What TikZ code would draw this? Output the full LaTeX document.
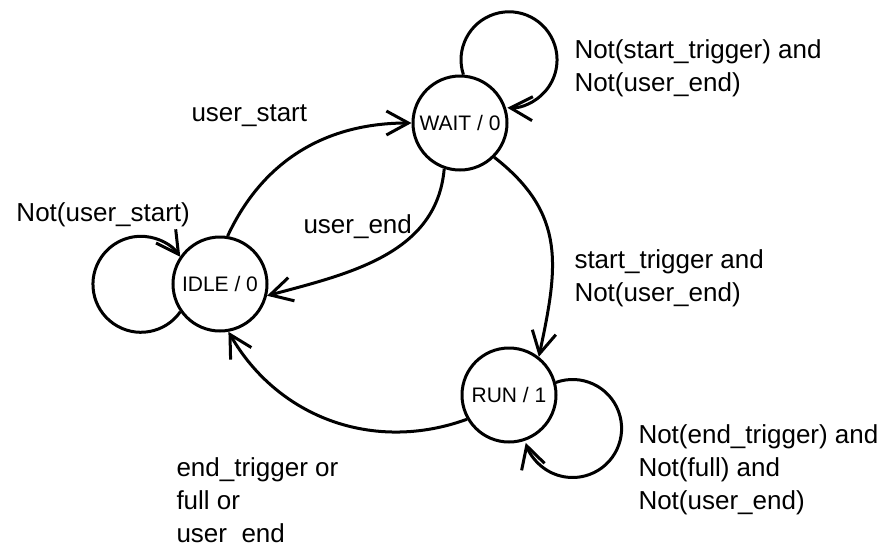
\documentclass[tikz,border=0pt]{standalone}
\usepackage{fontspec}
\setmainfont{Liberation Sans}
\usetikzlibrary{arrows.meta}

\tikzset{
  state/.style={draw,circle,minimum size=47pt,inner sep=0pt,font=\fontsize{10.5}{12}\selectfont},
  cond/.style={anchor=west,align=left,inner sep=0pt,font=\fontsize{13}{16.5}\selectfont},
}

\begin{document}
\begin{tikzpicture}[x=0.5pt,y=0.5pt,line width=1.5pt,>={Straight Barb[length=11pt,width=12pt]}]
    \useasboundingbox (0,0) rectangle (885,-542);

    \node[state] (idle) at (220,-284) {IDLE / 0};
    \node[state] (wait) at (460,-123) {WAIT / 0};
    \node[state] (run)  at (509,-395) {RUN / 1};

    % transitions
    \draw[->] (idle.81)  to[out=65,in=180]  (wait.180);
    \draw[->] (wait.251) to[out=-95,in=15]  (idle.-14);
    \draw[->] (wait.-45) to[out=-38,in=78,looseness=1.15] (run.52);
    \draw[->] (run.210)  to[out=200,in=-60] (idle.-80);

    % self loops
    \draw[->] (idle.215) arc[start angle=-35,end angle=-325,radius=48];
    \draw[->] (wait.86)  arc[start angle=198,end angle=-92,radius=48];
    \draw[->] (run.15)   arc[start angle=110,end angle=-163,radius=49];

    \node[cond] (ustart)  at (190,-116) {user\_start};
    \node[cond] (uend)    at (302,-227) {user\_end};
    \node[cond] (idlelp)  at (15,-215)  {Not(user\_start)};
    \node[cond] (waitlp)  at (573,-68)  {Not(start\_trigger) and\\Not(user\_end)};
    \node[cond] (strig)   at (573,-278) {start\_trigger and\\Not(user\_end)};
    \node[cond] (runlp)   at (637,-470) {Not(end\_trigger) and\\Not(full) and\\Not(user\_end)};
    \node[cond] (etrig)   at (175,-503) {end\_trigger or\\full or\\user\_end};
  \end{tikzpicture}
\end{document}
